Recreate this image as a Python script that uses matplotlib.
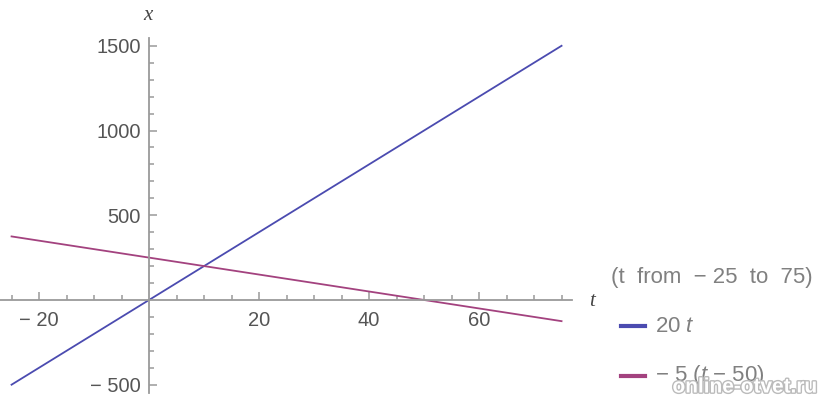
import numpy as np
import matplotlib.pyplot as plt
import matplotlib.patheffects as pe
from matplotlib.lines import Line2D
from matplotlib.ticker import FixedLocator

# plot range and the two expressions
t_min, t_max = -25, 75
t = np.array([t_min, t_max])
x_blue = 20 * t
x_red = -5 * (t - 50)

xticks = [-20, 20, 40, 60]
xtick_labels = ["\u2212 20", "20", "40", "60"]
yticks = [-500, 500, 1000, 1500]
ytick_labels = ["\u2212 500", "500", "1000", "1500"]
legend_title = "(t  from  \u2212 25  to  75)"
legend_labels = ["20 $\\mathsf{t}$", "\u2212 5 ($\\mathsf{t}$ \u2212 50)"]

blue = "#4b4bb0"
red = "#a3427f"
axis_gray = "#9a9a9a"
text_gray = "#555555"

plt.rcParams['font.family'] = ['Liberation Sans', 'DejaVu Sans']
plt.rcParams['mathtext.fontset'] = 'custom'
plt.rcParams['mathtext.it'] = 'Liberation Serif:italic'
plt.rcParams['mathtext.sf'] = 'Liberation Sans:italic'

fig = plt.figure(figsize=(8.2, 4.0), dpi=100)
ax = fig.add_axes([0.0, 7 / 400, 572 / 820, 355 / 400])

ax.plot(t, x_blue, color=blue, lw=1.3)
ax.plot(t, x_red, color=red, lw=1.3)

ax.set_xlim(-27.1, 76.9)
ax.set_ylim(-549, 1546)

for s in ["top", "right"]:
    ax.spines[s].set_visible(False)
ax.spines["left"].set_position(("data", 0))
ax.spines["bottom"].set_position(("data", 0))
for s in ["left", "bottom"]:
    ax.spines[s].set_color(axis_gray)
    ax.spines[s].set_linewidth(1.3)
ax.patch.set_alpha(0)

ax.xaxis.set_major_locator(FixedLocator(xticks))
ax.set_xticklabels(xtick_labels)
ax.xaxis.set_minor_locator(FixedLocator([v for v in range(-25, 76, 5) if v % 20 != 0]))
ax.yaxis.set_major_locator(FixedLocator(yticks))
ax.set_yticklabels(ytick_labels)
ax.yaxis.set_minor_locator(FixedLocator([v for v in range(-500, 1501, 100) if v % 500 != 0]))

ax.tick_params(which="both", direction="in", color=axis_gray, width=1.1,
               labelcolor=text_gray, labelsize=14.5)
ax.tick_params(which="major", length=6)
ax.tick_params(which="minor", length=3.5)
ax.tick_params(axis="x", pad=8)
ax.tick_params(axis="y", pad=6)

# axis names
fig.text(149 / 820, 1 - 15 / 400, "$x$", ha="center", va="center",
         fontsize=15, color="#444444")
fig.text(593 / 820, 1 - 300 / 400, "$t$", ha="center", va="center",
         fontsize=15, color="#444444")

# legend drawn beside the plot
fig.text(611 / 820, 1 - 278 / 400, legend_title, ha="left", va="center",
         fontsize=16, color="#808080")
for i, (lab, col) in enumerate(zip(legend_labels, [blue, red])):
    yy = 1 - (326 + 50 * i) / 400
    fig.add_artist(Line2D([621 / 820, 645 / 820], [yy, yy], color=col,
                          lw=3, transform=fig.transFigure))
    fig.text(655 / 820, yy, lab, ha="left", va="center",
             fontsize=16, color="#808080")

# watermark
fig.text(818 / 820, 1 - 387 / 400, "online-otvet.ru", ha="right", va="center",
         fontsize=15, fontweight="bold", color="white",
         path_effects=[pe.withStroke(linewidth=2, foreground="#bbbbbb")])

fig.savefig("out.png", dpi=100)
